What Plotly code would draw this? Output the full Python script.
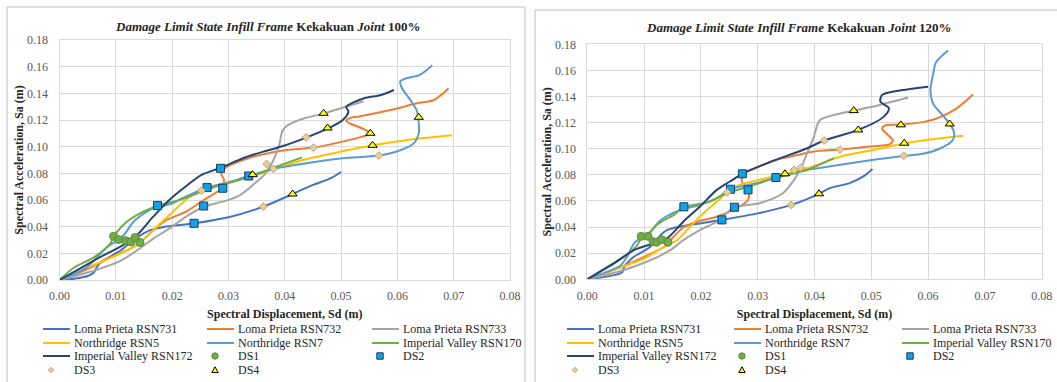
import plotly.graph_objects as go

W, H = 1057, 382

# ------------------------------------------------------------------
# Series names / colours (Excel order)
# ------------------------------------------------------------------
line_names = ["Loma Prieta RSN731", "Loma Prieta RSN732", "Loma Prieta RSN733",
              "Northridge RSN5", "Northridge RSN7", "Imperial Valley RSN170",
              "Imperial Valley RSN172"]
line_colors = ["#4472C4", "#ED7D31", "#A5A5A5", "#FFC000", "#5B9BD5", "#70AD47", "#264478"]
ds_names = ["DS1", "DS2", "DS3", "DS4"]

# ------------------------------------------------------------------
# Panel 1 : Kekakuan Joint 100%
# ------------------------------------------------------------------
A_731_x = [0, 0.0026, 0.005, 0.0061, 0.0066, 0.0073, 0.0108, 0.0137, 0.016, 0.0185, 0.024, 0.030, 0.0362, 0.0414, 0.0448, 0.048, 0.050]
A_731_y = [0, 0.001, 0.003, 0.0056, 0.0094, 0.0132, 0.022, 0.0316, 0.0372, 0.0398, 0.0425, 0.047, 0.055, 0.0645, 0.071, 0.076, 0.081]

A_732_x = [0, 0.005, 0.009, 0.0125, 0.0144, 0.0166, 0.0189, 0.0224, 0.0256, 0.0288, 0.0292, 0.0287, 0.0300, 0.0326, 0.0356, 0.0403, 0.0452, 0.0503, 0.0538, 0.0553, 0.0541, 0.0518, 0.0509, 0.0518, 0.0529, 0.0588, 0.0635, 0.0665, 0.0691]
A_732_y = [0, 0.0081, 0.017, 0.0233, 0.0284, 0.0372, 0.0448, 0.0511, 0.060, 0.0688, 0.0752, 0.080, 0.0855, 0.090, 0.0938, 0.0975, 0.0993, 0.1038, 0.1075, 0.110, 0.113, 0.117, 0.1195, 0.1218, 0.1225, 0.1275, 0.1325, 0.135, 0.1438]

A_733_x = [0, 0.005, 0.0108, 0.0137, 0.0166, 0.0195, 0.0224, 0.0256, 0.0296, 0.0320, 0.0344, 0.0366, 0.0380, 0.0390, 0.0396, 0.0405, 0.0435, 0.0471, 0.0509, 0.0540]
A_733_y = [0, 0.0056, 0.0144, 0.022, 0.0309, 0.0385, 0.0473, 0.0549, 0.0595, 0.0635, 0.0715, 0.0800, 0.0900, 0.1010, 0.1120, 0.1160, 0.1213, 0.1250, 0.1300, 0.1340]

A_5_x = [0, 0.005, 0.0096, 0.0131, 0.0144, 0.0166, 0.0195, 0.0224, 0.0250, 0.0282, 0.0341, 0.0385, 0.0432, 0.0491, 0.0556, 0.0618, 0.0697]
A_5_y = [0, 0.0094, 0.0175, 0.0246, 0.0284, 0.0372, 0.0486, 0.060, 0.0672, 0.0714, 0.0777, 0.0838, 0.090, 0.0955, 0.1010, 0.1050, 0.1085]

A_7_x = [0, 0.0044, 0.0067, 0.0084, 0.0105, 0.0116, 0.0131, 0.0143, 0.0166, 0.0201, 0.0224, 0.0260, 0.0300, 0.0335, 0.0385, 0.0444, 0.0503, 0.0567, 0.0606, 0.0629, 0.0638, 0.0638, 0.0634, 0.0623, 0.0608, 0.0605, 0.0614, 0.0640, 0.0662]
A_7_y = [0, 0.0081, 0.017, 0.0246, 0.0301, 0.0347, 0.0435, 0.0478, 0.0537, 0.0575, 0.0625, 0.0689, 0.0732, 0.0780, 0.0838, 0.0880, 0.0913, 0.0933, 0.0975, 0.1025, 0.1100, 0.1175, 0.1275, 0.1350, 0.1440, 0.1490, 0.1510, 0.1538, 0.1610]

A_170_x = [0, 0.0026, 0.0061, 0.009, 0.0096, 0.0102, 0.0119, 0.0143, 0.0172, 0.0213, 0.0253, 0.0282, 0.0341, 0.0385, 0.0431]
A_170_y = [0, 0.0094, 0.017, 0.0271, 0.0322, 0.036, 0.0435, 0.0499, 0.0554, 0.060, 0.0663, 0.0706, 0.0777, 0.085, 0.092]

A_172_x = [0, 0.0065, 0.0131, 0.0166, 0.0195, 0.0224, 0.0253, 0.0287, 0.0326, 0.0362, 0.0397, 0.0438, 0.0476, 0.0503, 0.0513, 0.0509, 0.0521, 0.0541, 0.0571, 0.0594]
A_172_y = [0, 0.0155, 0.031, 0.0473, 0.060, 0.0701, 0.079, 0.0843, 0.0913, 0.0963, 0.1005, 0.1068, 0.1135, 0.120, 0.1263, 0.130, 0.133, 0.1363, 0.1388, 0.1425]

A_DS1_x = [0.0096, 0.0105, 0.0118, 0.0127, 0.0134, 0.0143]
A_DS1_y = [0.0328, 0.0303, 0.0295, 0.0286, 0.0318, 0.0281]
A_DS2_x = [0.0286, 0.0336, 0.0262, 0.0290, 0.0174, 0.0256, 0.0239]
A_DS2_y = [0.0838, 0.0780, 0.0693, 0.0688, 0.0558, 0.0555, 0.0425]
A_DS3_x = [0.0438, 0.0451, 0.0368, 0.0380, 0.0567, 0.0252, 0.0362]
A_DS3_y = [0.1070, 0.0993, 0.0870, 0.0833, 0.0933, 0.0670, 0.0550]
A_DS4_x = [0.0469, 0.0476, 0.0552, 0.0556, 0.0638, 0.0343, 0.0414]
A_DS4_y = [0.1250, 0.1140, 0.1100, 0.1010, 0.1220, 0.0790, 0.0645]

# ------------------------------------------------------------------
# Panel 2 : Kekakuan Joint 120%
# ------------------------------------------------------------------
B_731_x = [0, 0.003, 0.0053, 0.0062, 0.0065, 0.0082, 0.0111, 0.0129, 0.014, 0.0169, 0.0198, 0.0236, 0.0300, 0.0359, 0.0408, 0.0427, 0.0462, 0.0486, 0.0502]
B_731_y = [0, 0.0018, 0.0038, 0.0056, 0.0095, 0.0172, 0.0249, 0.0338, 0.0377, 0.0408, 0.0428, 0.0455, 0.0505, 0.057, 0.0655, 0.0698, 0.0737, 0.0788, 0.0845]

B_732_x = [0, 0.0053, 0.010, 0.0135, 0.0152, 0.0169, 0.0193, 0.0228, 0.0257, 0.0283, 0.0284, 0.0272, 0.0276, 0.0300, 0.0330, 0.0358, 0.0399, 0.0445, 0.0492, 0.0533, 0.0538, 0.0527, 0.0519, 0.0524, 0.0552, 0.0591, 0.0614, 0.0649, 0.0679]
B_732_y = [0, 0.0082, 0.0172, 0.0249, 0.0326, 0.0397, 0.0441, 0.0479, 0.0531, 0.0608, 0.0685, 0.0750, 0.0810, 0.0860, 0.0912, 0.0940, 0.0979, 0.0995, 0.1015, 0.1035, 0.1064, 0.1115, 0.1153, 0.1179, 0.1185, 0.1204, 0.1230, 0.1306, 0.1416]

B_733_x = [0, 0.0053, 0.0111, 0.0146, 0.0169, 0.0198, 0.0228, 0.0258, 0.0303, 0.0344, 0.0364, 0.0376, 0.0387, 0.0399, 0.0405, 0.0410, 0.0434, 0.0469, 0.0504, 0.0565]
B_733_y = [0, 0.0056, 0.0146, 0.0223, 0.030, 0.0377, 0.0441, 0.0549, 0.0582, 0.0659, 0.0762, 0.0851, 0.0966, 0.1093, 0.1183, 0.1221, 0.1259, 0.1292, 0.1323, 0.1392]

B_5_x = [0, 0.0053, 0.010, 0.0135, 0.0158, 0.0181, 0.0204, 0.0228, 0.0246, 0.0268, 0.0303, 0.0347, 0.0387, 0.0446, 0.0504, 0.0558, 0.0591, 0.0662]
B_5_y = [0, 0.0082, 0.0159, 0.0249, 0.030, 0.0403, 0.0505, 0.0595, 0.0665, 0.0723, 0.0762, 0.0808, 0.0851, 0.094, 0.0991, 0.1040, 0.1064, 0.1100]

B_7_x = [0, 0.0048, 0.0059, 0.007, 0.0082, 0.0095, 0.0111, 0.0126, 0.0138, 0.0164, 0.0198, 0.0228, 0.0252, 0.0297, 0.0332, 0.0387, 0.0446, 0.0504, 0.0557, 0.0591, 0.0620, 0.0643, 0.0646, 0.0640, 0.0626, 0.0609, 0.0604, 0.0609, 0.0614, 0.0635]
B_7_y = [0, 0.0082, 0.0108, 0.0172, 0.0274, 0.032, 0.0364, 0.0441, 0.0479, 0.0531, 0.0569, 0.0621, 0.069, 0.0736, 0.078, 0.0838, 0.0877, 0.0915, 0.0945, 0.0962, 0.1000, 0.1064, 0.1115, 0.1179, 0.1255, 0.1344, 0.1446, 0.1574, 0.1663, 0.1753]

B_170_x = [0, 0.003, 0.0065, 0.0088, 0.0096, 0.0106, 0.012, 0.0135, 0.0152, 0.0169, 0.0216, 0.0245, 0.0274, 0.0331, 0.0387, 0.0434]
B_170_y = [0, 0.0082, 0.0172, 0.0262, 0.0326, 0.0338, 0.0408, 0.0454, 0.0492, 0.0551, 0.0595, 0.0659, 0.0697, 0.0775, 0.0838, 0.0928]

B_172_x = [0, 0.0042, 0.0082, 0.014, 0.0169, 0.0198, 0.0228, 0.0251, 0.0273, 0.0329, 0.0387, 0.0417, 0.0477, 0.0522, 0.0531, 0.0516, 0.0519, 0.0539, 0.0600]
B_172_y = [0, 0.0108, 0.0223, 0.0313, 0.0441, 0.0556, 0.0685, 0.0749, 0.0808, 0.0910, 0.1004, 0.1063, 0.1144, 0.1246, 0.131, 0.1361, 0.1412, 0.1438, 0.1475]

B_DS1_x = [0.0095, 0.0107, 0.0116, 0.0122, 0.0131, 0.0142]
B_DS1_y = [0.0329, 0.0329, 0.0288, 0.0284, 0.0303, 0.0284]
B_DS2_x = [0.0273, 0.0332, 0.0252, 0.0283, 0.0170, 0.0259, 0.0237]
B_DS2_y = [0.0808, 0.0780, 0.0690, 0.0685, 0.0555, 0.0552, 0.0455]
B_DS3_x = [0.0417, 0.0445, 0.0364, 0.0376, 0.0557, 0.0246, 0.0359]
B_DS3_y = [0.1063, 0.0994, 0.0838, 0.0856, 0.0946, 0.0665, 0.0570]
B_DS4_x = [0.0469, 0.0477, 0.0552, 0.0558, 0.0638, 0.0348, 0.0408]
B_DS4_y = [0.1292, 0.1144, 0.1183, 0.1042, 0.1190, 0.0808, 0.0655]

x_ticks = [0.00, 0.01, 0.02, 0.03, 0.04, 0.05, 0.06, 0.07, 0.08]
y_ticks = [0.00, 0.02, 0.04, 0.06, 0.08, 0.10, 0.12, 0.14, 0.16, 0.18]

titles = ["<b><i>Damage Limit State Infill Frame</i> Kekakuan <i>Joint</i> 100%</b>",
          "<b><i>Damage Limit State Infill Frame</i> Kekakuan <i>Joint</i> 120%</b>"]

panels = [
    dict(lines=[(A_731_x, A_731_y), (A_732_x, A_732_y), (A_733_x, A_733_y), (A_5_x, A_5_y),
                (A_7_x, A_7_y), (A_170_x, A_170_y), (A_172_x, A_172_y)],
         ds=[(A_DS1_x, A_DS1_y), (A_DS2_x, A_DS2_y), (A_DS3_x, A_DS3_y), (A_DS4_x, A_DS4_y)]),
    dict(lines=[(B_731_x, B_731_y), (B_732_x, B_732_y), (B_733_x, B_733_y), (B_5_x, B_5_y),
                (B_7_x, B_7_y), (B_170_x, B_170_y), (B_172_x, B_172_y)],
         ds=[(B_DS1_x, B_DS1_y), (B_DS2_x, B_DS2_y), (B_DS3_x, B_DS3_y), (B_DS4_x, B_DS4_y)]),
]

# ------------------------------------------------------------------
# styling
# ------------------------------------------------------------------
FONT = "Liberation Serif, Times New Roman, serif"
ds_style = [
    dict(symbol="circle", size=8, color="#70AD47", line=dict(color="#5E8C3E", width=1), r=3.2),
    dict(symbol="square", size=8, color="#0FA3E6", line=dict(color="#1F3864", width=1), r=3.2),
    dict(symbol="diamond", size=6, color="#F5CD7E", line=dict(color="#A6A6A6", width=1), r=2.7),
    dict(symbol="triangle-up", size=8, color="#FFFF00", line=dict(color="#000000", width=1), r=3.2),
]

# pixel geometry of the two panels
plot_px = [dict(x0=59.5, x1=510.0, y0=40.0, y1=280.0),
           dict(x0=587.3, x1=1041.7, y0=44.3, y1=279.3)]
frame_px = [(7, 7, 525, 390), (535, 10, 1060, 390)]
title_px = [(267, 26), (798, 28)]
legend_cols_px = [[43, 207, 372], [567, 734, 902]]
legend_rows_px = [329, 343, 356, 370]

fig = go.Figure()

def fx(px):
    return px / W

def fy(py):
    return 1 - py / H

shapes = []
annotations = []

for p, panel in enumerate(panels):
    xa = "x" if p == 0 else "x2"
    ya = "y" if p == 0 else "y2"
    for name, color, (xs, ys) in zip(line_names, line_colors, panel["lines"]):
        fig.add_trace(go.Scatter(x=xs, y=ys, mode="lines", name=name,
                                 line=dict(color=color, width=2, shape="spline", smoothing=0.8),
                                 xaxis=xa, yaxis=ya, showlegend=False))
    for name, st, (xs, ys) in zip(ds_names, ds_style, panel["ds"]):
        fig.add_trace(go.Scatter(x=xs, y=ys, mode="markers", name=name,
                                 marker=dict(symbol=st["symbol"], size=st["size"], color=st["color"],
                                             line=st["line"]),
                                 xaxis=xa, yaxis=ya, showlegend=False))

    g = plot_px[p]
    sfx = "" if p == 0 else "2"
    fig.layout["xaxis" + sfx] = dict(
        domain=[fx(g["x0"]), fx(g["x1"])], anchor=ya, range=[0, 0.08],
        tickvals=x_ticks, ticktext=["%.2f" % v for v in x_ticks],
        showgrid=True, gridcolor="#D9D9D9", gridwidth=1, zeroline=False,
        showline=True, linecolor="#D9D9D9", linewidth=1, mirror=True, ticks="",
        ticklabelstandoff=5,
        tickfont=dict(family=FONT, size=12, color="#595959"),
        title=dict(text="<b>Spectral Displacement, Sd (m)</b>", standoff=7,
                   font=dict(family=FONT, size=12, color="#262626")))
    fig.layout["yaxis" + sfx] = dict(
        domain=[fy(g["y1"]), fy(g["y0"])], anchor=xa, range=[0, 0.18],
        tickvals=y_ticks, ticktext=["%.2f" % v for v in y_ticks],
        showgrid=True, gridcolor="#D9D9D9", gridwidth=1, zeroline=False,
        showline=True, linecolor="#D9D9D9", linewidth=1, mirror=True, ticks="",
        ticklabelstandoff=8,
        tickfont=dict(family=FONT, size=12, color="#595959"),
        title=dict(text="<b>Spectral Acceleration, Sa (m)</b>", standoff=0,
                   font=dict(family=FONT, size=12, color="#262626")))

    # panel frame
    x0, y0, x1, y1 = frame_px[p]
    shapes.append(dict(type="rect", xref="paper", yref="paper", x0=fx(x0), x1=fx(x1),
                       y0=fy(y1), y1=fy(y0), line=dict(color="#BFBFBF", width=1),
                       fillcolor="rgba(0,0,0,0)", layer="below"))
    # title
    tx, ty = title_px[p]
    annotations.append(dict(text=titles[p], xref="paper", yref="paper", x=fx(tx), y=fy(ty),
                            xanchor="center", yanchor="middle", showarrow=False,
                            font=dict(family=FONT, size=13, color="#262626")))

    # legend (3 columns, Excel style)
    entries = [(n, "line", c) for n, c in zip(line_names, line_colors)] + \
              [(n, "marker", s) for n, s in zip(ds_names, ds_style)]
    for i, (name, kind, sty) in enumerate(entries):
        cx = legend_cols_px[p][i % 3]
        cy = legend_rows_px[i // 3]
        if kind == "line":
            shapes.append(dict(type="line", xref="paper", yref="paper",
                               x0=fx(cx), x1=fx(cx + 27), y0=fy(cy), y1=fy(cy),
                               line=dict(color=sty, width=2)))
        else:
            mx, r = cx + 8, sty["r"]
            ln = dict(color=sty["line"]["color"], width=1)
            if sty["symbol"] == "circle":
                shapes.append(dict(type="circle", xref="paper", yref="paper",
                                   x0=fx(mx - r), x1=fx(mx + r), y0=fy(cy + r), y1=fy(cy - r),
                                   fillcolor=sty["color"], line=ln))
            elif sty["symbol"] == "square":
                shapes.append(dict(type="rect", xref="paper", yref="paper",
                                   x0=fx(mx - r), x1=fx(mx + r), y0=fy(cy + r), y1=fy(cy - r),
                                   fillcolor=sty["color"], line=ln))
            elif sty["symbol"] == "diamond":
                path = "M %f,%f L %f,%f L %f,%f L %f,%f Z" % (
                    fx(mx), fy(cy - r), fx(mx + r), fy(cy), fx(mx), fy(cy + r), fx(mx - r), fy(cy))
                shapes.append(dict(type="path", xref="paper", yref="paper", path=path,
                                   fillcolor=sty["color"], line=ln))
            else:
                path = "M %f,%f L %f,%f L %f,%f Z" % (
                    fx(mx), fy(cy - r), fx(mx + r), fy(cy + r * 0.8), fx(mx - r), fy(cy + r * 0.8))
                shapes.append(dict(type="path", xref="paper", yref="paper", path=path,
                                   fillcolor=sty["color"], line=ln))
        annotations.append(dict(text=name, xref="paper", yref="paper",
                                x=fx(legend_cols_px[p][i % 3] + 29), y=fy(cy),
                                xanchor="left", yanchor="middle", showarrow=False,
                                font=dict(family=FONT, size=12, color="#262626")))

fig.update_layout(
    width=W, height=H,
    margin=dict(l=0, r=0, t=0, b=0, autoexpand=False),
    paper_bgcolor="white", plot_bgcolor="white",
    showlegend=False,
    shapes=shapes, annotations=annotations,
    font=dict(family=FONT, size=12, color="#262626"),
)

fig.write_html("out.html")
